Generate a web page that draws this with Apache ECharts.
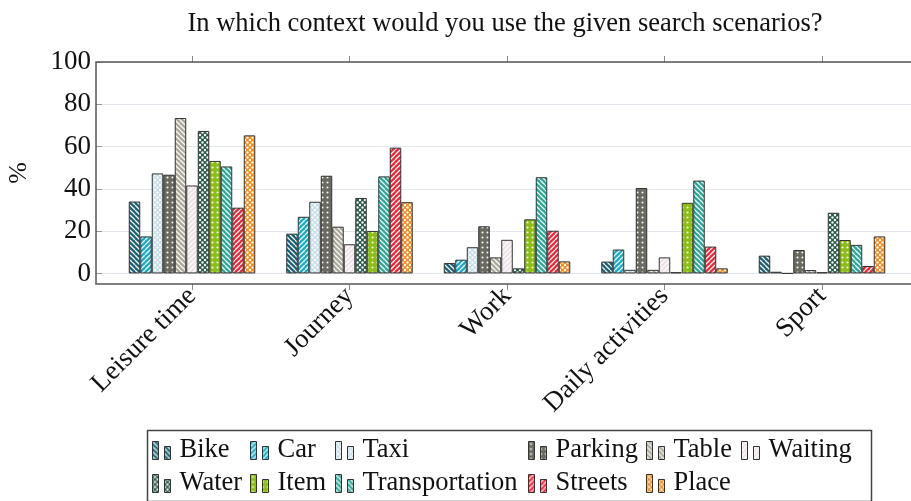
<!DOCTYPE html>
<html>
<head>
<meta charset="utf-8">
<script src="https://cdn.jsdelivr.net/npm/echarts@6/dist/echarts.min.js"></script>
<style>
  html, body { margin: 0; padding: 0; background: #ffffff; }
  #chart { width: 911px; height: 501px; }
</style>
</head>
<body>
<div id="chart"></div>
<script>
// Contexts (x categories) and share of answers in % per search scenario
const categories = ['Leisure time', 'Journey', 'Work', 'Daily activities', 'Sport'];
const bike           = [34.0, 18.8,  4.9,  5.6,  8.4];
const car            = [17.5, 26.8,  6.5, 11.3,  0.8];
const taxi           = [47.3, 33.9, 12.4,  1.7,  0.0];
const parking        = [46.7, 46.2, 22.3, 40.4, 11.1];
const table          = [73.5, 22.1,  7.6,  1.7,  1.6];
const waiting        = [41.6, 13.8, 15.9,  7.6,  0.6];
const water          = [67.4, 35.7,  2.4,  0.6, 28.7];
const item           = [53.2, 20.1, 25.6, 33.4, 15.8];
const transportation = [50.6, 45.9, 45.5, 43.9, 13.5];
const streets        = [31.1, 59.5, 20.2, 12.7,  3.5];
const place          = [65.3, 33.7,  5.7,  2.4, 17.5];
const yTickValues    = [0, 20, 40, 60, 80, 100];

const FONT = 'Liberation Serif';
const TEXT = '#111111';

// Repeating fill tiles: base colour plus a white hatch, stripe or dot pattern
function patternFill(base, kind) {
  const size = 5;
  const c = document.createElement('canvas');
  c.width = size;
  c.height = size;
  const g = c.getContext('2d');
  g.fillStyle = base;
  g.fillRect(0, 0, size, size);
  g.fillStyle = 'rgba(255,255,255,0.95)';
  g.strokeStyle = 'rgba(255,255,255,0.95)';
  if (kind === 'nw' || kind === 'ne') {
    g.lineWidth = 1.3;
    for (let k = -1; k <= 1; k++) {
      g.beginPath();
      if (kind === 'nw') {          // "\" lines
        g.moveTo(k * size, 0);
        g.lineTo(k * size + size, size);
      } else {                      // "/" lines
        g.moveTo(k * size, size);
        g.lineTo(k * size + size, 0);
      }
      g.stroke();
    }
  } else if (kind === 'dots') {
    g.beginPath();
    g.arc(size / 2, size / 2, 1.05, 0, Math.PI * 2);
    g.fill();
  } else if (kind === 'crosshatch') {
    const r = 1.2;
    [[0, 0], [size, 0], [0, size], [size, size], [size / 2, size / 2]].forEach(([x, y]) => {
      g.beginPath();
      g.arc(x, y, r, 0, Math.PI * 2);
      g.fill();
    });
  }
  return { image: c, repeat: 'repeat' };
}

const seriesSpec = [
  ['Bike',           bike,           '#1c5f73', 'nw'],
  ['Car',            car,            '#17aac4', 'ne'],
  ['Taxi',           taxi,           '#c6dfe8', 'crosshatch'],
  ['Parking',        parking,        '#6a6a60', 'dots'],
  ['Table',          table,          '#a9a697', 'nw'],
  ['Waiting',        waiting,        '#efe2e6', 'ne'],
  ['Water',          water,          '#2c5a4a', 'crosshatch'],
  ['Item',           item,           '#8cbd18', 'dots'],
  ['Transportation', transportation, '#2aa797', 'nw'],
  ['Streets',        streets,        '#e62838', 'ne'],
  ['Place',          place,          '#f08b1c', 'crosshatch']
];

const series = seriesSpec.map(([name, values, color, kind]) => ({
  name: name,
  type: 'bar',
  xAxisIndex: 0,
  yAxisIndex: 0,
  data: values,
  barWidth: 11.5,
  barGap: '0%',
  itemStyle: { color: patternFill(color, kind), borderColor: '#333333', borderWidth: 1 },
  emphasis: { disabled: true }
}));

// Legend laid out as a 6-column table, one vertical legend per column
const legendColumns = [
  { left: 152, items: ['Bike', 'Water'] },
  { left: 250, items: ['Car', 'Item'] },
  { left: 335, items: ['Taxi', 'Transportation'] },
  { left: 528, items: ['Parking', 'Streets'] },
  { left: 646, items: ['Table', 'Place'] },
  { left: 741, items: ['Waiting'] }
];
const legendIcon = 'path://M0,0H6V18H0Z M12,5H18V18H12Z';
const legends = legendColumns.map(col => ({
  orient: 'vertical',
  left: col.left,
  top: 437,
  padding: 0,
  itemGap: 6,
  itemWidth: 18,
  itemHeight: 18,
  icon: legendIcon,
  data: col.items,
  selectedMode: false,
  itemStyle: { borderColor: '#333333', borderWidth: 1 },
  textStyle: { fontFamily: FONT, fontSize: 26.5, color: TEXT, lineHeight: 23, padding: [0, 0, 0, 4] }
}));

const chart = echarts.init(document.getElementById('chart'), null, { renderer: 'canvas' });
chart.setOption({
  animation: false,
  backgroundColor: '#ffffff',
  title: {
    text: 'In which context would you use the given search scenarios?',
    left: 500,
    top: 6,
    textAlign: 'center',
    textStyle: { fontFamily: FONT, fontWeight: 'normal', fontSize: 26.5, color: TEXT }
  },
  legend: legends,
  grid: [
    // bars
    { left: 113.25, right: 10.25, top: 62, bottom: 217, outerBoundsMode: 'none', containLabel: false },
    // frame
    { left: 96, right: -7, top: 62, bottom: 217, outerBoundsMode: 'none', containLabel: false,
      show: true, z: 10, borderColor: '#555555', borderWidth: 1.5, backgroundColor: 'transparent' }
  ],
  xAxis: [
    {
      gridIndex: 0, type: 'category', data: categories, position: 'bottom',
      axisLine: { show: false, onZero: false },
      axisTick: { show: true, alignWithLabel: true, inside: false, length: 6, lineStyle: { color: '#888888' } },
      axisLabel: { rotate: 45, margin: 8, fontFamily: FONT, fontSize: 27, color: TEXT, interval: 0 },
      splitLine: { show: false }
    },
    {
      gridIndex: 0, type: 'category', data: categories, position: 'top',
      axisLine: { show: false, onZero: false },
      axisTick: { show: true, alignWithLabel: true, inside: false, length: 6, lineStyle: { color: '#888888' } },
      axisLabel: { show: false },
      splitLine: { show: false }
    },
    { gridIndex: 1, type: 'value', show: false, min: 0, max: 1 }
  ],
  yAxis: [
    { gridIndex: 0, type: 'value', min: -5, max: 100, show: false, splitLine: { show: false } },
    {
      gridIndex: 1, type: 'value', min: -5, max: 100, position: 'left',
      name: '%', nameLocation: 'middle', nameGap: 64, nameRotate: 90,
      nameTextStyle: { fontFamily: FONT, fontSize: 26, color: TEXT },
      axisLine: { show: false },
      axisTick: { show: true, inside: true, length: 6, customValues: yTickValues, lineStyle: { color: '#999999' } },
      axisLabel: { customValues: yTickValues, margin: 5, fontFamily: FONT, fontSize: 27, color: TEXT },
      splitLine: { show: true, lineStyle: { color: '#e3e7ee', width: 1.2 } }
    },
    {
      gridIndex: 1, type: 'value', min: -5, max: 100, position: 'right',
      axisLine: { show: false },
      axisTick: { show: true, inside: true, length: 6, customValues: yTickValues, lineStyle: { color: '#999999' } },
      axisLabel: { show: false },
      splitLine: { show: false }
    }
  ],
  graphic: [
    {
      type: 'rect', left: 145, top: 428, z: 0,
      shape: { width: 724, height: 71 },
      style: { fill: 'none', stroke: '#444444', lineWidth: 1.5 }
    }
  ],
  series: series
});
</script>
</body>
</html>
